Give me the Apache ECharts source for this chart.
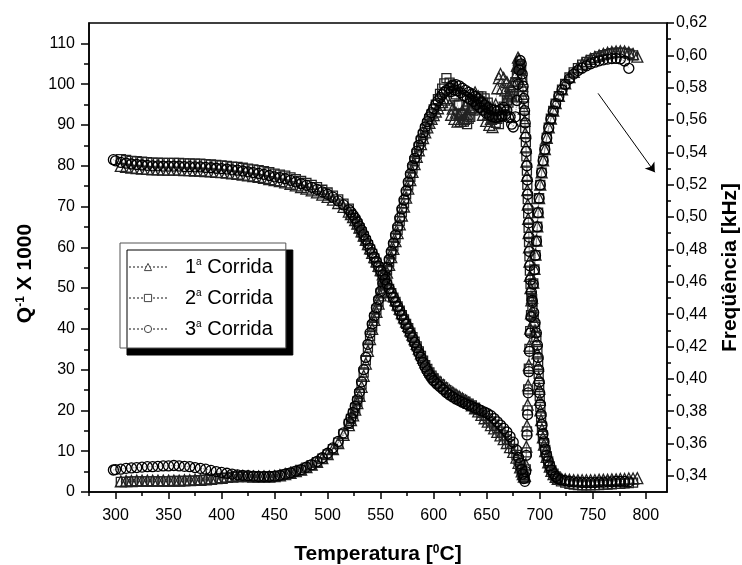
<!DOCTYPE html>
<html>
<head>
<meta charset="utf-8">
<script src="https://cdn.jsdelivr.net/npm/echarts@6/dist/echarts.min.js"></script>
<style>html,body{margin:0;padding:0;background:#fff}#chart{width:742px;height:565px}</style>
</head>
<body>
<div id="chart"></div>
<script>
const seriesNames = ['1ª Corrida', '2ª Corrida', '3ª Corrida'];

// Temperature grid of the Q^-1 curves (°C)
const tempQ = [298,300,305,310,315,320,325,330,335,340,345,350,355,360,365,370,375,380,385,390,395,400,405,410,415,420,425,430,435,440,445,450,455,460,465,470,475,480,485,490,495,500,505,510,515,520,
522,524,526,528,530,532,534,536,538,540,542,544,546,548,550,552,554,556,558,560,562,564,566,568,570,572,574,576,578,580,582,584,586,588,590,592,594,596,598,600,602,604,606,608,610,612,
615,616.5,618,619.5,621,622.5,624,625.5,627,628.5,630,631.5,633,634.5,636,637.5,639,640.5,642,643.5,645,646.5,648,649.5,651,652.5,654,655.5,657,658.5,660,661.5,663,664.5,666,667.5,669,670.5,672,673.5,675,
677,678.5,679.5,680.5,681.5,682.5,683.5,684.3,685,685.7,686.3,686.9,687.4,687.9,688.3,688.7,689.1,689.5,689.9,690.3,690.7,691.3,692.1,693.1,694.3,695.6,696.8,697.8,698.5,699,699.5,700,700.6,701.3,702.1,703,704,705.2,706.5,708,709.5,711,713,715,717,
720,724,728,732,736,740,744,748,752,756,760,764,768,772,776,780,784,788,792];

// Q^-1 x 1000, run 1 (triangles)
const q1 = [null,null,2.6,2.7,2.7,2.8,2.8,2.8,2.8,2.8,2.8,2.8,2.8,2.8,2.9,2.9,3.0,3.0,3.1,3.2,3.4,3.5,3.7,3.8,3.9,3.9,3.9,3.8,3.8,3.8,3.8,3.9,4.1,4.4,4.7,5.1,5.5,6.1,6.7,7.4,8.3,9.3,10.5,12.0,14.0,16.4,
17.6,18.8,20.2,21.8,23.6,25.8,28.5,31.5,34.6,37.5,40.0,42.2,44.2,46.2,48.2,50.0,51.9,53.8,55.7,57.6,59.6,61.5,63.5,65.6,67.8,70.0,72.2,74.4,76.5,78.5,80.4,82.2,83.8,85.3,86.8,88.2,89.4,90.5,91.5,92.4,93.3,94.1,94.9,95.6,96.2,96.6,
95.0,92.5,94.0,91.5,93.0,90.8,92.5,91.0,93.5,91.5,94.5,92.8,96.0,94.0,97.5,95.0,98.0,95.5,97.0,94.5,95.5,92.5,94.0,91.0,92.5,90.0,91.5,89.5,92.0,95.0,99.0,101.5,102.5,99.0,101.5,98.5,100.5,97.5,99.5,97.0,100.0,
102.0,104.5,106.5,106.0,104.0,102.0,99.5,97.0,94.0,91.0,88.0,84.5,81.0,77.5,74.0,70.5,67.0,63.5,60.0,56.5,53.0,50.0,47.0,44.5,42.0,39.5,37.0,34.0,31.0,28.0,25.3,22.6,20.0,17.6,15.4,13.4,11.6,10.0,8.6,7.3,6.2,5.2,4.4,3.7,3.2,
3.3,3.1,3.0,2.9,2.9,2.9,2.9,2.9,2.9,3.0,3.0,3.0,3.1,3.1,3.2,3.2,3.3,3.3,3.4];

// Q^-1 x 1000, run 2 (squares)
const q2 = [null,null,2.5,2.5,2.6,2.6,2.6,2.6,2.6,2.6,2.6,2.6,2.7,2.7,2.7,2.8,2.8,2.9,3.0,3.1,3.2,3.4,3.5,3.7,3.8,3.8,3.8,3.8,3.7,3.7,3.8,3.9,4.0,4.3,4.6,5.0,5.4,6.0,6.6,7.3,8.2,9.2,10.5,12.1,14.2,16.7,
17.9,19.2,20.6,22.2,24.0,26.4,29.3,32.3,35.4,38.2,40.6,42.7,44.7,46.7,48.7,50.6,52.5,54.4,56.4,58.3,60.3,62.3,64.3,66.4,68.6,70.8,73.0,75.2,77.3,79.3,81.1,82.9,84.5,86.0,87.5,88.9,90.2,91.4,92.6,93.8,95.0,96.3,97.6,98.9,100.2,101.5,
100.4,99.0,99.5,97.0,97.5,94.8,95.0,92.5,92.8,90.8,91.5,90.2,91.5,92.0,94.0,93.5,95.5,95.0,97.0,95.8,97.0,95.5,96.5,94.5,95.5,93.0,94.0,91.5,92.5,90.5,91.5,90.2,92.0,92.5,94.5,94.0,96.0,95.5,97.5,97.0,98.5,
100.5,102.5,104.0,104.8,104.5,103.5,101.0,98.2,95.2,92.2,89.2,85.8,82.3,78.8,75.3,71.8,68.3,64.8,61.3,57.8,54.3,51.0,48.0,45.5,43.0,40.5,38.0,35.0,32.0,29.0,26.2,23.5,20.8,18.3,16.0,13.9,12.0,10.3,8.8,7.5,6.3,5.3,4.5,3.8,3.3,
2.6,2.3,2.0,1.8,1.7,1.6,1.6,1.6,1.7,1.7,1.8,1.8,1.9,2.0,2.0,2.1,2.2,2.3,null];

// Q^-1 x 1000, run 3 (circles)
const q3 = [5.4,5.5,5.6,5.8,5.9,6.0,6.1,6.2,6.2,6.3,6.4,6.4,6.5,6.4,6.3,6.2,6.0,5.8,5.6,5.3,5.0,4.8,4.6,4.4,4.2,4.1,4.0,3.9,3.8,3.8,3.8,3.9,4.1,4.4,4.7,5.1,5.5,6.1,6.7,7.5,8.4,9.5,10.8,12.4,14.5,17.0,
18.2,19.5,21.0,22.6,24.5,27.0,30.0,33.0,36.2,39.0,41.2,43.2,45.2,47.2,49.2,51.2,53.0,55.0,57.0,59.0,61.0,63.0,65.0,67.2,69.4,71.6,73.8,76.0,78.0,80.0,81.8,83.5,85.0,86.6,88.1,89.5,90.8,92.0,93.0,94.0,95.0,95.9,96.7,97.4,98.0,98.5,
99.0,98.2,99.8,98.6,99.9,98.4,99.6,97.9,99.0,97.2,98.5,96.8,98.0,96.3,97.6,95.8,97.0,95.0,96.4,94.3,95.6,93.6,94.9,92.9,94.2,92.4,93.8,92.0,93.6,91.8,93.4,92.0,93.8,92.2,94.3,92.5,93.6,91.8,92.0,90.2,89.5,
92,96,100,103.5,105.8,105,102.5,99.5,96.5,93.5,90.5,87,83.5,80,76.5,73,69.5,66,62.5,59,55.5,52,49,46.5,44,41.5,39,36,33,30,27,24.3,21.5,19,16.5,14.3,12.3,10.5,9,7.6,6.4,5.4,4.5,3.8,3.3,
3.0,2.8,2.6,2.5,2.4,2.3,2.3,2.3,2.3,2.4,2.4,2.5,2.5,2.6,2.6,2.6,2.5,null,null];

// Temperature grid of the frequency curves (°C)
const tempF = [298,300,305,310,315,320,325,330,335,340,345,350,355,360,365,370,375,380,385,390,395,400,405,410,415,420,425,430,435,440,445,450,455,460,465,470,475,480,485,490,495,500,505,510,515,520,
522,524,526,528,530,532,534,536,538,540,542,544,546,548,550,552,554,556,558,560,562,564,566,568,570,572,574,576,578,580,582,584,586,588,590,592,594,596,598,600,
603,606,609,612,615,618,621,624,627,630,633,636,639,642,645,648,651,654,657,660,663,666,669,672,675,678,
680,681.5,683,684,685,686,
686.8,687.4,688,688.6,689.1,689.7,690.3,691.0,691.8,692.8,693.9,695.0,696.0,696.9,697.7,698.5,699.4,700.5,701.8,703.2,704.8,706.6,708.5,710.5,712.7,715,718,721,
724,728,732,736,740,744,748,752,756,760,764,768,772,776,780,784,788,792];

// Frequency (kHz), run 1
const f1 = [null,null,0.5316,0.5311,0.5306,0.5303,0.5300,0.5298,0.5295,0.5295,0.5293,0.5293,0.5293,0.5293,0.5290,0.5290,0.5288,0.5288,0.5285,0.5283,0.5280,0.5278,0.5275,0.5270,0.5268,0.5263,0.5258,0.5253,0.5248,0.5242,0.5235,0.5228,0.5222,0.5215,0.5206,0.5196,0.5186,0.5176,0.5165,0.5153,0.5139,0.5125,0.5108,0.5087,0.5063,0.5034,
0.5018,0.5000,0.4981,0.4959,0.4935,0.4911,0.4885,0.4859,0.4833,0.4806,0.4779,0.4753,0.4726,0.4699,0.4672,0.4646,0.4619,0.4592,0.4565,0.4539,0.4512,0.4486,0.4459,0.4433,0.4406,0.4380,0.4353,0.4327,0.4300,0.4273,0.4245,0.4216,0.4187,0.4158,0.4129,0.4102,0.4077,0.4055,0.4035,0.4017,
0.3998,0.3980,0.3962,0.3944,0.3929,0.3916,0.3903,0.3891,0.3879,0.3866,0.3852,0.3836,0.3818,0.3798,0.3777,0.3756,0.3735,0.3714,0.3693,0.3672,0.3650,0.3627,0.3603,0.3577,0.3548,0.3512,
0.3480,0.3452,0.3428,0.3410,0.3395,0.3400,
0.3470,0.3580,0.3710,0.3840,0.3960,0.4085,0.4205,0.4310,0.4405,0.4500,0.4595,0.4680,0.4768,0.4855,0.4942,0.5030,0.5118,0.5200,0.5276,0.5350,0.5420,0.5490,0.5554,0.5609,0.5658,0.5704,0.5750,0.5790,
0.5827,0.5866,0.5898,0.5925,0.5946,0.5964,0.5978,0.5990,0.6000,0.6009,0.6016,0.6021,0.6024,0.6025,0.6024,0.6018,0.6008,0.5992];

// Frequency (kHz), run 2
const f2 = [null,null,0.5358,0.5353,0.5348,0.5345,0.5342,0.5340,0.5337,0.5337,0.5335,0.5335,0.5335,0.5335,0.5332,0.5332,0.5330,0.5330,0.5327,0.5325,0.5322,0.5320,0.5317,0.5312,0.5310,0.5305,0.5300,0.5295,0.5290,0.5284,0.5277,0.5269,0.5263,0.5256,0.5246,0.5235,0.5223,0.5212,0.5199,0.5185,0.5169,0.5152,0.5133,0.5110,0.5083,0.5052,
0.5015,0.4997,0.4977,0.4955,0.4931,0.4906,0.4880,0.4853,0.4826,0.4799,0.4772,0.4745,0.4718,0.4691,0.4664,0.4637,0.4610,0.4583,0.4556,0.4529,0.4502,0.4475,0.4448,0.4421,0.4394,0.4367,0.4340,0.4313,0.4286,0.4258,0.4229,0.4200,0.4170,0.4141,0.4112,0.4085,0.4061,0.4039,0.4020,0.4002,
0.3983,0.3965,0.3947,0.3930,0.3915,0.3902,0.3890,0.3879,0.3869,0.3858,0.3847,0.3835,0.3821,0.3806,0.3790,0.3773,0.3755,0.3736,0.3716,0.3695,0.3673,0.3650,0.3625,0.3598,0.3567,0.3530,
0.3497,0.3465,0.3435,0.3415,0.3396,0.3385,
0.3440,0.3545,0.3675,0.3805,0.3935,0.4062,0.4185,0.4295,0.4393,0.4492,0.4590,0.4677,0.4765,0.4852,0.4940,0.5028,0.5117,0.5199,0.5275,0.5349,0.5419,0.5490,0.5553,0.5608,0.5656,0.5702,0.5748,0.5788,
0.5824,0.5863,0.5895,0.5921,0.5942,0.5959,0.5972,0.5983,0.5993,0.6001,0.6008,0.6013,0.6016,0.6017,0.6015,0.6010,0.6000,null];

// Frequency (kHz), run 3
const f3 = [0.5355,0.5348,0.5338,0.5333,0.5328,0.5325,0.5322,0.5320,0.5317,0.5317,0.5315,0.5315,0.5315,0.5315,0.5312,0.5312,0.5310,0.5310,0.5307,0.5305,0.5302,0.5300,0.5297,0.5292,0.5290,0.5285,0.5280,0.5275,0.5270,0.5264,0.5257,0.5249,0.5244,0.5237,0.5227,0.5217,0.5206,0.5196,0.5184,0.5171,0.5156,0.5141,0.5123,0.5100,0.5075,0.5045,
0.5030,0.5012,0.4992,0.4969,0.4944,0.4919,0.4891,0.4863,0.4836,0.4808,0.4780,0.4753,0.4725,0.4697,0.4669,0.4642,0.4614,0.4586,0.4558,0.4531,0.4503,0.4475,0.4447,0.4420,0.4392,0.4364,0.4336,0.4309,0.4281,0.4253,0.4223,0.4193,0.4162,0.4132,0.4102,0.4074,0.4049,0.4026,0.4006,0.3988,
0.3968,0.3951,0.3933,0.3915,0.3900,0.3888,0.3875,0.3865,0.3855,0.3847,0.3837,0.3830,0.3819,0.3812,0.3802,0.3794,0.3784,0.3772,0.3754,0.3734,0.3714,0.3693,0.3671,0.3643,0.3608,0.3560,
0.3514,0.3477,0.3439,0.3411,0.3383,0.3366,
0.3426,0.3527,0.3653,0.3779,0.3913,0.4044,0.4170,0.4283,0.4384,0.4485,0.4586,0.4674,0.4763,0.4851,0.4939,0.5027,0.5116,0.5199,0.5275,0.5348,0.5418,0.5489,0.5552,0.5607,0.5655,0.5701,0.5746,0.5786,
0.5820,0.5855,0.5884,0.5906,0.5922,0.5935,0.5948,0.5958,0.5966,0.5972,0.5977,0.5980,0.5981,0.5978,0.5965,0.5920,null,null];

// Tick labels
const xTicks = [300,350,400,450,500,550,600,650,700,750,800];
const xMinorTicks = [275,325,375,425,475,525,575,625,675,725,775];
const qTicks = [0,10,20,30,40,50,60,70,80,90,100,110];
const qMinorTicks = [5,15,25,35,45,55,65,75,85,95,105];
const fTicks = [0.34,0.36,0.38,0.40,0.42,0.44,0.46,0.48,0.50,0.52,0.54,0.56,0.58,0.60,0.62];
const fMinorTicks = [0.35,0.37,0.39,0.41,0.43,0.45,0.47,0.49,0.51,0.53,0.55,0.57,0.59,0.61];

// Arrow annotation (temperature, frequency)
const arrowFrom = [755, 0.5765];
const arrowTo = [808.5, 0.5277];

const FONT = 'Liberation Sans, Arial, sans-serif';
const symbols = ['triangle', 'rect', 'circle'];
const symbolSizes = [11, 9, 10];
const borderColors = ['#222', '#222', '#000'];

function pairs(ts, vs) {
  const out = [];
  for (let i = 0; i < ts.length; i++) if (vs[i] !== null && vs[i] !== undefined) out.push([ts[i], vs[i]]);
  return out;
}

function mkSeries(run, data, yIdx, extra) {
  return Object.assign({
    name: seriesNames[run],
    type: 'line',
    xAxisIndex: 0,
    yAxisIndex: yIdx,
    data: data,
    symbol: symbols[run],
    symbolSize: symbolSizes[run],
    showSymbol: true,
    showAllSymbol: true,
    itemStyle: { color: 'rgba(255,255,255,0)', borderColor: borderColors[run], borderWidth: 1.3 },
    lineStyle: { type: 'dotted', width: 1, color: '#8a8a8a' },
    emphasis: { disabled: true },
    animation: false
  }, extra || {});
}

const qData = [q1, q2, q3];
const fData = [f1, f2, f3];
const series = [];
for (let r = 0; r < 3; r++) series.push(mkSeries(r, pairs(tempQ, qData[r]), 0));
for (let r = 0; r < 3; r++) {
  const extra = r === 2 ? {
    markLine: {
      silent: true,
      animation: false,
      symbol: ['none', 'arrow'],
      symbolSize: 9,
      label: { show: false },
      lineStyle: { color: '#000', width: 1, type: 'solid' },
      data: [[{ coord: arrowFrom }, { coord: arrowTo }]]
    }
  } : null;
  series.push(mkSeries(r, pairs(tempF, fData[r]), 1, extra));
}

const axisLineStyle = { color: '#000', width: 1.5 };
const labelStyle = { color: '#000', fontSize: 16, fontFamily: FONT };
const nameRich = {
  t: { fontSize: 21, fontWeight: 'bold', fontFamily: FONT, color: '#000' },
  s: { fontSize: 12, fontWeight: 'bold', fontFamily: FONT, color: '#000', verticalAlign: 'top' }
};

const chart = echarts.init(document.getElementById('chart'), null, { renderer: 'canvas' });
chart.setOption({
  animation: false,
  backgroundColor: '#fff',
  grid: {
    left: 89, top: 23, right: 75, bottom: 73,
    show: true, borderColor: '#000', borderWidth: 1.5, backgroundColor: 'transparent',
    outerBoundsMode: 'none', containLabel: false
  },
  legend: {
    data: seriesNames,
    orient: 'vertical',
    left: 120, top: 243,
    padding: [14, 13, 9, 8],
    itemGap: 11,
    itemWidth: 38,
    itemHeight: 9,
    align: 'left',
    selectedMode: false,
    backgroundColor: '#fff',
    borderColor: '#555',
    borderWidth: 1,
    shadowColor: '#000',
    shadowBlur: 0,
    shadowOffsetX: 7,
    shadowOffsetY: 7,
    itemStyle: { color: '#fff', borderColor: '#444', borderWidth: 1 },
    formatter: function (name) {
      return '{g| }{n|' + name.charAt(0) + '}{s|a}{n| Corrida}';
    },
    textStyle: {
      fontSize: 20, fontFamily: FONT, color: '#000',
      rich: {
        g: { width: 13 },
        n: { fontSize: 20, fontFamily: FONT, color: '#000' },
        s: { fontSize: 10, fontFamily: FONT, color: '#000', verticalAlign: 'top' }
      }
    }
  },
  xAxis: [{
    type: 'value', min: 275, max: 820, position: 'bottom',
    axisLine: { show: true, onZero: false, lineStyle: axisLineStyle },
    axisTick: { show: true, inside: false, length: 7, customValues: xTicks, lineStyle: axisLineStyle },
    axisLabel: Object.assign({ customValues: xTicks, margin: 16 }, labelStyle),
    splitLine: { show: false },
    name: '{t|Temperatura [}{s|0}{t|C]}',
    nameLocation: 'middle', nameGap: 52,
    nameTextStyle: { rich: nameRich }
  }, {
    type: 'value', min: 275, max: 820, position: 'bottom',
    axisLine: { show: false, onZero: false },
    axisTick: { show: true, inside: false, length: 4, customValues: xMinorTicks, lineStyle: axisLineStyle },
    axisLabel: { show: false },
    splitLine: { show: false }
  }],
  yAxis: [{
    type: 'value', min: 0, max: 115, position: 'left',
    axisLine: { show: true, onZero: false, lineStyle: axisLineStyle },
    axisTick: { show: true, inside: false, length: 8, customValues: qTicks, lineStyle: axisLineStyle },
    axisLabel: Object.assign({ customValues: qTicks, margin: 14 }, labelStyle),
    splitLine: { show: false },
    name: '{t|Q}{s|-1}{t| X 1000}',
    nameLocation: 'middle', nameGap: 53, nameRotate: 90,
    nameTextStyle: { rich: nameRich, padding: [0, 32, 0, 0] }
  }, {
    type: 'value', min: 0.33, max: 0.62, position: 'right',
    axisLine: { show: true, onZero: false, lineStyle: axisLineStyle },
    axisTick: { show: true, inside: false, length: 7, customValues: fTicks, lineStyle: axisLineStyle },
    axisLabel: Object.assign({
      customValues: fTicks, margin: 9,
      formatter: function (v) { return v.toFixed(2).replace('.', ','); }
    }, labelStyle),
    splitLine: { show: false },
    name: '{t|Freqüência [kHz]}',
    nameLocation: 'middle', nameGap: 53, nameRotate: 90,
    nameTextStyle: { rich: nameRich, padding: [0, 20, 0, 0] }
  }, {
    type: 'value', min: 0, max: 115, position: 'left',
    axisLine: { show: false, onZero: false },
    axisTick: { show: true, inside: false, length: 5, customValues: qMinorTicks, lineStyle: axisLineStyle },
    axisLabel: { show: false },
    splitLine: { show: false }
  }, {
    type: 'value', min: 0.33, max: 0.62, position: 'right',
    axisLine: { show: false, onZero: false },
    axisTick: { show: true, inside: false, length: 4, customValues: fMinorTicks, lineStyle: axisLineStyle },
    axisLabel: { show: false },
    splitLine: { show: false }
  }],
  series: series
});
</script>
</body>
</html>
